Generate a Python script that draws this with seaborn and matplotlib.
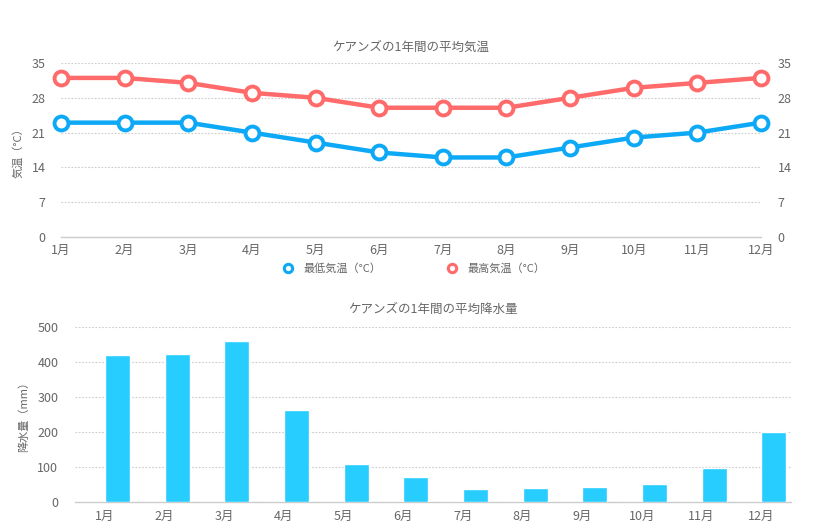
import numpy as np
import pandas as pd
import matplotlib
matplotlib.use("Agg")
import matplotlib.pyplot as plt
from matplotlib.lines import Line2D
import seaborn as sns

months = ["1月", "2月", "3月", "4月", "5月", "6月", "7月", "8月", "9月", "10月", "11月", "12月"]
temp_min = [23, 23, 23, 21, 19, 17, 16, 16, 18, 20, 21, 23]
temp_max = [32, 32, 31, 29, 28, 26, 26, 26, 28, 30, 31, 32]
rain = [419, 422, 459, 263, 109, 72, 38, 41, 44, 50, 98, 200]
temp_ticks = [0, 7, 14, 21, 28, 35]
rain_ticks = [0, 100, 200, 300, 400, 500]

title_temp = "ケアンズの1年間の平均気温"
title_rain = "ケアンズの1年間の平均降水量"
label_min = "最低気温（°C）"
label_max = "最高気温（°C）"
ylabel_temp = "気温（°C）"
ylabel_rain = "降水量（mm）"

BLUE = "#0DA9F6"
RED = "#FF6B6B"
BAR = "#26CDFE"
TXT = "#666666"
GRID = "#cccccc"

sns.set_theme(style="white")
plt.rcParams["font.family"] = ["Noto Sans CJK JP", "DejaVu Sans"]

fig = plt.figure(figsize=(8.19, 5.32), dpi=100)

# ---------- Temperature chart ----------
ax1 = fig.add_axes([61 / 819, 1 - 237 / 532, 700 / 819, 174 / 532])
idx = list(range(len(months)))
df_t = pd.DataFrame({
    "idx": idx * 2,
    "temp": temp_min + temp_max,
    "series": [label_min] * 12 + [label_max] * 12,
})
sns.lineplot(data=df_t, x="idx", y="temp", hue="series",
             palette={label_min: BLUE, label_max: RED},
             hue_order=[label_min, label_max],
             marker="o", markersize=10, markerfacecolor="white",
             markeredgewidth=2.8, linewidth=3.2, legend=False,
             clip_on=False, ax=ax1, zorder=3)
for ln in ax1.lines:
    ln.set_markeredgecolor(ln.get_color())

ax1.set_xlim(0, 11)
ax1.set_ylim(0, 35)
ax1.set_yticks(temp_ticks)
ax1.set_xticks(idx)
ax1.set_xticklabels(months)
ax1.set_xlabel("")
ax1.set_ylabel(ylabel_temp, color=TXT, fontsize=8, labelpad=6)
ax1.yaxis.grid(True, linestyle=(0, (1.5, 1.5)), color=GRID, linewidth=0.8)
for s in ["top", "right", "left"]:
    ax1.spines[s].set_visible(False)
ax1.spines["bottom"].set_color("#cccccc")
ax1.spines["bottom"].set_linewidth(1.0)
ax1.tick_params(axis="both", colors=TXT, labelsize=9, length=0, pad=5)
ax1.tick_params(axis="y", pad=11)
ax1.set_title(title_temp, color=TXT, fontsize=9, pad=9)

ax1r = ax1.twinx()
ax1r.set_ylim(0, 35)
ax1r.set_yticks(temp_ticks)
for s in ["top", "right", "left", "bottom"]:
    ax1r.spines[s].set_visible(False)
ax1r.tick_params(axis="y", colors=TXT, labelsize=9, length=0, pad=12)

handles = [
    Line2D([], [], linestyle="none", marker="o", markersize=6,
           markerfacecolor="white", markeredgecolor=BLUE, markeredgewidth=2.2),
    Line2D([], [], linestyle="none", marker="o", markersize=6,
           markerfacecolor="white", markeredgecolor=RED, markeredgewidth=2.2),
]
leg = ax1.legend(handles, [label_min, label_max], ncol=2, frameon=False,
                 loc="upper center", bbox_to_anchor=(0.5, -0.095),
                 fontsize=8, columnspacing=5.3, handletextpad=0.4)
for t in leg.get_texts():
    t.set_color(TXT)

# ---------- Rainfall chart ----------
ax2 = fig.add_axes([75 / 819, 1 - 502 / 532, 716 / 819, 175.5 / 532])
df_r = pd.DataFrame({
    "month": months * 2,
    "rain": [0] * 12 + rain,
    "grp": ["_pad"] * 12 + [ylabel_rain] * 12,
})
sns.barplot(data=df_r, x="month", y="rain", hue="grp",
            hue_order=["_pad", ylabel_rain],
            palette={"_pad": "white", ylabel_rain: BAR},
            dodge=True, width=0.84, saturation=1, legend=False, ax=ax2,
            zorder=3)
ax2.set_xlim(-0.5, 11.5)
ax2.set_ylim(0, 500)
ax2.set_yticks(rain_ticks)
ax2.set_xlabel("")
ax2.set_ylabel(ylabel_rain, color=TXT, fontsize=8, labelpad=6)
ax2.yaxis.grid(True, linestyle=(0, (1.5, 1.5)), color=GRID, linewidth=0.8)
ax2.set_axisbelow(True)
for s in ["top", "right", "left"]:
    ax2.spines[s].set_visible(False)
ax2.spines["bottom"].set_color("#cccccc")
ax2.spines["bottom"].set_linewidth(1.0)
ax2.tick_params(axis="both", colors=TXT, labelsize=9, length=0, pad=6)
ax2.tick_params(axis="y", pad=12)
ax2.set_title(title_rain, color=TXT, fontsize=9, pad=10)

fig.savefig("out.png", dpi=100, facecolor="white")
